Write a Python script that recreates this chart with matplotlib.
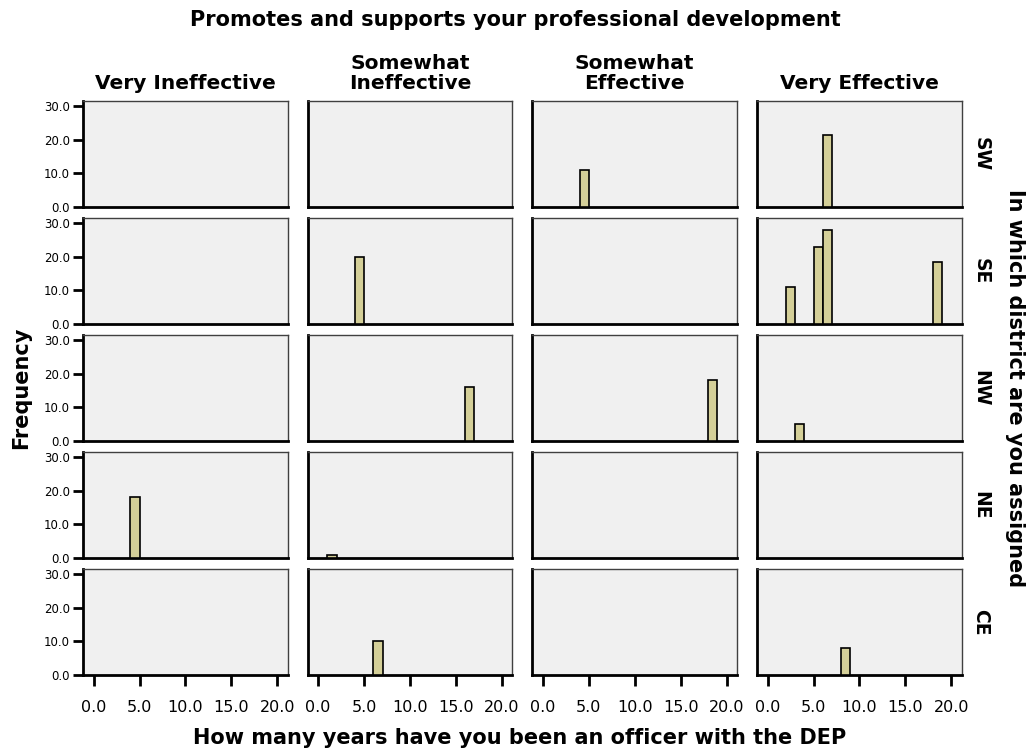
import numpy as np
import matplotlib
matplotlib.use("Agg")
import matplotlib.pyplot as plt

# facettes: lignes = district, colonnes = efficacite
districts = ["SW", "SE", "NW", "NE", "CE"]
ratings = ["Very Ineffective", "Somewhat\nIneffective", "Somewhat\nEffective", "Very Effective"]

# une entree par barre (district, note, debut de classe en annees, frequence)
bar_district = ["SW", "SW", "SE", "SE", "SE", "SE", "SE", "NW", "NW", "NW", "NE", "NE", "CE", "CE"]
bar_rating = [2, 3, 1, 3, 3, 3, 3, 1, 2, 3, 0, 1, 1, 3]
bar_years = [4, 6, 4, 2, 5, 6, 18, 16, 18, 3, 4, 1, 6, 8]
bar_freq = [11, 21.5, 20, 11, 23, 28, 18.5, 16, 18, 5, 18, 1, 10, 8]

x_ticks = [0, 5, 10, 15, 20]
y_ticks = [0, 10, 20, 30]

plt.rcParams['font.family'] = ['DejaVu Sans']

W, H = 1030, 756
fig = plt.figure(figsize=(W / 100, H / 100), dpi=100)

col_left = [83, 307.6, 532.3, 757]
col_w = 204.5
row_top = [100.7, 217.7, 334.7, 451.7, 568.7]
row_h = 106.3

bar_color = "#D4CF98"
panel_bg = "#F0F0F0"

for i, dist in enumerate(districts):
    for j, rat in enumerate(ratings):
        ax = fig.add_axes([col_left[j] / W, 1 - (row_top[i] + row_h) / H, col_w / W, row_h / H])
        ax.set_facecolor(panel_bg)
        sel = [k for k in range(len(bar_years)) if bar_district[k] == dist and bar_rating[k] == j]
        if sel:
            ax.bar([bar_years[k] for k in sel], [bar_freq[k] for k in sel], width=1, align='edge',
                   color=bar_color, edgecolor='black', linewidth=1.2, zorder=3)
        ax.set_xlim(-1.15, 21.1)
        ax.set_ylim(0, 31.6)
        ax.set_xticks(x_ticks)
        ax.set_yticks(y_ticks)
        for s in ['top', 'right']:
            ax.spines[s].set_linewidth(1.0)
            ax.spines[s].set_color('#404040')
        for s in ['left', 'bottom']:
            ax.spines[s].set_linewidth(2.0)
            ax.spines[s].set_color('black')

        if j == 0:
            ax.set_yticklabels([f"{v:.1f}" for v in y_ticks], fontsize=8.5)
            ax.tick_params(axis='y', direction='out', length=7.5, width=2, pad=2)
        else:
            ax.tick_params(axis='y', left=False, labelleft=False)
        if i == len(districts) - 1:
            ax.set_xticklabels([f"{v:.1f}" for v in x_ticks], fontsize=11.5)
            ax.tick_params(axis='x', direction='out', length=8, width=2, pad=10)
        else:
            ax.tick_params(axis='x', bottom=False, labelbottom=False)

        if i == 0:
            ax.text(0.5, 1.07, rat, transform=ax.transAxes, ha='center', va='bottom',
                    fontsize=14.5, fontweight='bold', linespacing=1.1)
        if j == len(ratings) - 1:
            fig.text(981 / W, 1 - (row_top[i] + row_h / 2) / H, dist, rotation=-90,
                     ha='center', va='center', fontsize=13.5, fontweight='bold')

fig.text(515 / W, 1 - 20 / H, "Promotes and supports your professional development",
         ha='center', va='center', fontsize=15, fontweight='bold')
fig.text(520 / W, 1 - 738 / H, "How many years have you been an officer with the DEP",
         ha='center', va='center', fontsize=15, fontweight='bold')
fig.text(21 / W, 1 - 388 / H, "Frequency", rotation=90,
         ha='center', va='center', fontsize=15, fontweight='bold')
fig.text(1015 / W, 1 - 388 / H, "In which district are you assigned", rotation=-90,
         ha='center', va='center', fontsize=15, fontweight='bold')

fig.savefig("out.png", dpi=100)
